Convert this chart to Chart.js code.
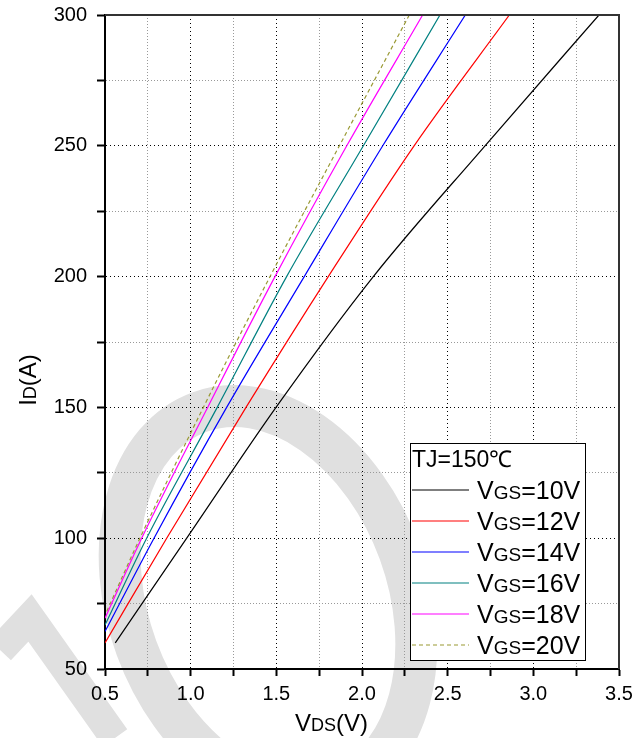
<!DOCTYPE html>
<html>
<head>
<meta charset="utf-8">
<script src="https://cdn.jsdelivr.net/npm/chart.js@4.4.1/dist/chart.umd.min.js"></script>
<style>
  html, body { margin: 0; padding: 0; background: #fff; }
  #wrap { position: relative; width: 643px; height: 738px; }
</style>
</head>
<body>
<div id="wrap"><canvas id="idChart"></canvas></div>
<script>
// Output characteristic ID vs VDS, TJ = 150°C
const vgsLabels = ['10', '12', '14', '16', '18', '20'];

const vds10 = [0.56, 0.977, 1.498, 2.066, 2.718, 3.383];
const id10  = [60, 100, 150, 200, 250, 300];
const vds12 = [0.5, 0.86, 1.323, 1.803, 2.304, 2.86];
const id12  = [60, 100, 150, 200, 250, 300];
const vds14 = [0.5, 0.786, 1.21, 1.663, 2.121, 2.603];
const id14  = [64.3, 100, 150, 200, 250, 300];
const vds16 = [0.5, 0.743, 1.155, 1.56, 2.008, 2.455];
const id16  = [66.8, 100, 150, 200, 250, 300];
const vds18 = [0.5, 0.714, 1.099, 1.492, 1.911, 2.354];
const id18  = [69.4, 100, 150, 200, 250, 300];
const vds20 = [0.51, 0.704, 1.074, 1.463, 1.868, 2.276];
const id20  = [72, 100, 150, 200, 250, 300];

const xTickLabels = ['0.5', '1.0', '1.5', '2.0', '2.5', '3.0', '3.5'];
const yTickLabels = ['50', '100', '150', '200', '250', '300'];

const seriesX = [vds10, vds12, vds14, vds16, vds18, vds20];
const seriesY = [id10, id12, id14, id16, id18, id20];
const lineColors = ['#000000', '#ff0000', '#0000ff', '#008080', '#ff00ff', '#999933'];

const FONT = "Arial, 'Liberation Sans', sans-serif";

function toPoints(xs, ys) {
    return xs.map((x, i) => ({ x: x, y: ys[i] }));
}

// draws text made of [string, size] pieces on one baseline
function drawParts(ctx, parts, x, y) {
    parts.forEach(([txt, size]) => {
        ctx.font = size + 'px ' + FONT;
        ctx.fillText(txt, x, y);
        x += ctx.measureText(txt).width;
    });
    return x;
}
function partsWidth(ctx, parts) {
    let w = 0;
    parts.forEach(([txt, size]) => {
        ctx.font = size + 'px ' + FONT;
        w += ctx.measureText(txt).width;
    });
    return w;
}

const isMajor = (v, step) => Math.abs(v / step - Math.round(v / step)) < 1e-6;

// faint watermark behind everything
const watermark = {
    id: 'watermark',
    beforeDraw(chart) {
        const ctx = chart.ctx;
        ctx.save();
        ctx.strokeStyle = '#e0e0e0';
        ctx.lineWidth = 42;
        ctx.beginPath();
        ctx.ellipse(268, 600, 140, 200, -0.35, 0, Math.PI * 2);
        ctx.stroke();
        ctx.lineWidth = 30;
        ctx.beginPath();
        ctx.moveTo(0, 650);
        ctx.lineTo(30, 618);
        ctx.lineTo(115, 738);
        ctx.stroke();
        ctx.restore();
    }
};

// axis titles, frame and legend box
const decorations = {
    id: 'decorations',
    afterDraw(chart) {
        const ctx = chart.ctx;
        const area = chart.chartArea;
        ctx.save();

        // top and right frame
        ctx.strokeStyle = '#333';
        ctx.lineWidth = 2;
        ctx.beginPath();
        ctx.moveTo(area.left, area.top);
        ctx.lineTo(area.right, area.top);
        ctx.lineTo(area.right, area.bottom);
        ctx.stroke();

        ctx.fillStyle = '#000';
        ctx.textBaseline = 'alphabetic';
        ctx.textAlign = 'left';

        // x title
        drawParts(ctx, [['V', 24], ['DS', 18], ['(V)', 24]], 295, 731);

        // y title
        const yParts = [['I', 24], ['D', 18], ['(A)', 24]];
        ctx.save();
        ctx.translate(36, 380);
        ctx.rotate(-Math.PI / 2);
        drawParts(ctx, yParts, -partsWidth(ctx, yParts) / 2, 0);
        ctx.restore();

        // legend
        const bx = 410, by = 443, bw = 175, bh = 217;
        ctx.fillStyle = '#fff';
        ctx.fillRect(bx, by, bw, bh);
        ctx.strokeStyle = '#000';
        ctx.lineWidth = 1;
        ctx.strokeRect(bx + 0.5, by + 0.5, bw, bh);

        ctx.fillStyle = '#000';
        drawParts(ctx, [['TJ=150\u2103', 23]], bx + 2, by + 24);

        chart.data.datasets.forEach((ds, i) => {
            const ly = by + 47 + i * 31;
            ctx.save();
            ctx.strokeStyle = ds.borderColor;
            ctx.lineWidth = 1.2;
            ctx.setLineDash(ds.borderDash || []);
            ctx.beginPath();
            ctx.moveTo(bx + 2, ly);
            ctx.lineTo(bx + 59, ly);
            ctx.stroke();
            ctx.restore();
            drawParts(ctx, [['V', 25], ['GS', 19], ['=' + vgsLabels[i] + 'V', 25]], bx + 67, ly + 9);
        });

        ctx.restore();
    }
};

const datasets = vgsLabels.map((v, i) => ({
    label: 'VGS=' + v + 'V',
    data: toPoints(seriesX[i], seriesY[i]),
    borderColor: lineColors[i],
    borderWidth: 1.2,
    borderDash: i === 5 ? [4, 3] : [],
    pointRadius: 0,
    fill: false,
    cubicInterpolationMode: 'monotone'
}));

const ctx = document.getElementById('idChart').getContext('2d');
const chart = new Chart(ctx, {
    type: 'line',
    data: { datasets: datasets },
    options: {
        responsive: true,
        maintainAspectRatio: false,
        animation: false,
        layout: { padding: { left: 0, right: 24, top: 15, bottom: 0 } },
        plugins: {
            legend: { display: false },
            tooltip: { enabled: false }
        },
        scales: {
            x: {
                type: 'linear',
                min: 0.5,
                max: 3.5,
                afterFit: (scale) => {
                    scale.height = 69;
                    scale.paddingLeft = 0;
                    scale.paddingRight = 0;
                },
                ticks: {
                    stepSize: 0.25,
                    autoSkip: false,
                    maxRotation: 0,
                    padding: 6,
                    color: '#000',
                    font: { family: FONT, size: 20 },
                    callback: (v) => isMajor(v, 0.5) ? xTickLabels[Math.round((v - 0.5) / 0.5)] : ''
                },
                grid: {
                    color: (c) => isMajor(c.tick.value, 0.5) ? '#000' : '#999',
                    lineWidth: 1,
                    tickLength: 7,
                    tickColor: '#000',
                    tickWidth: 2
                },
                border: {
                    display: true,
                    color: '#000',
                    width: 2,
                    dash: (c) => c.tick && isMajor(c.tick.value, 0.5) ? [1, 3] : [1, 2]
                }
            },
            y: {
                min: 50,
                max: 300,
                afterFit: (scale) => {
                    scale.width = 105;
                    scale.paddingTop = 0;
                    scale.paddingBottom = 0;
                },
                ticks: {
                    stepSize: 25,
                    autoSkip: false,
                    padding: 10,
                    color: '#000',
                    font: { family: FONT, size: 20 },
                    callback: (v) => isMajor(v, 50) ? yTickLabels[Math.round((v - 50) / 50)] : ''
                },
                grid: {
                    color: (c) => isMajor(c.tick.value, 50) ? '#000' : '#999',
                    lineWidth: 1,
                    tickLength: 8,
                    tickColor: '#000',
                    tickWidth: 2
                },
                border: {
                    display: true,
                    color: '#000',
                    width: 2,
                    dash: (c) => c.tick && isMajor(c.tick.value, 50) ? [1, 3] : [1, 2]
                }
            }
        }
    },
    plugins: [watermark, decorations]
});
</script>
</body>
</html>
